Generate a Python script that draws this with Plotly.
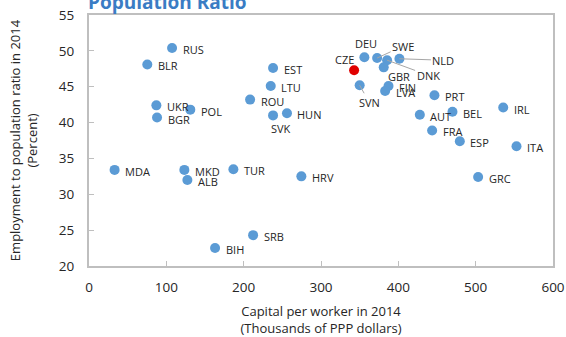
import plotly.graph_objects as go

# Country codes, capital per worker (thousands of PPP dollars, 2014)
# and employment-to-population ratio (percent, 2014)
countries = ["RUS", "BLR", "UKR", "BGR", "POL", "MDA", "MKD", "ALB", "TUR", "BIH",
             "SRB", "HRV", "ROU", "EST", "LTU", "SVK", "HUN", "DEU", "SWE", "DNK",
             "GBR", "NLD", "CZE", "SVN", "FIN", "LVA", "PRT", "AUT", "BEL", "IRL",
             "FRA", "ESP", "ITA", "GRC"]
capital = [107.4, 75.4, 87.1, 88.0, 131.0, 33.1, 123.3, 127.2, 186.7, 163.0,
           212.2, 274.6, 208.3, 238.0, 235.0, 238.0, 256.0, 356.1, 372.6, 385.5,
           381.1, 401.4, 342.8, 350.0, 387.3, 382.9, 446.7, 427.8, 470.0, 535.6,
           443.7, 479.5, 552.8, 503.2]
employment = [50.4, 48.1, 42.4, 40.7, 41.8, 33.4, 33.4, 32.0, 33.5, 22.5,
              24.3, 32.5, 43.2, 47.6, 45.1, 41.0, 41.3, 49.1, 49.0, 48.7,
              47.7, 48.9, 47.3, 45.2, 45.1, 44.4, 43.8, 41.1, 41.5, 42.1,
              38.9, 37.4, 36.7, 32.4]
highlight = "CZE"

x_ticks = [0, 100, 200, 300, 400, 500, 600]
y_ticks = [20, 25, 30, 35, 40, 45, 50, 55]

BLUE = "#5B9BD5"
RED = "#E00000"
TEXT = "#262626"
FRAME = "#BFBFBF"
FONT = "Open Sans"
LABEL_SIZE = 11

colors = [RED if c == highlight else BLUE for c in countries]

fig = go.Figure()
fig.add_trace(go.Scatter(
    x=capital, y=employment, mode="markers",
    marker=dict(size=10, color=colors, line=dict(width=0)),
    hoverinfo="text", text=countries, showlegend=False,
))

# label placement: default is to the right of the marker;
# entries here give (anchor, dx, dy) in pixels, dy positive = downward
special = {
    "SVK": ("center", 8, 13.5),
    "DEU": ("center", 2, -13.5),
    "CZE": ("right", 1.5, -10.5),
    "GBR": ("center", 15.5, 9.5),
}
# labels joined to their marker with a thin leader line: (dx, dy) of label centre
leaders = {
    "SWE": (26, -12),
    "NLD": (44, 1.5),
    "DNK": (41, 15),
    "SVN": (9.5, 17),
}

for c, xv, yv in zip(countries, capital, employment):
    font = dict(family=FONT, size=LABEL_SIZE, color=TEXT)
    if c in leaders:
        ax, ay = leaders[c]
        fig.add_annotation(
            x=xv, y=yv, xref="x", yref="y", text=c, showarrow=True,
            ax=ax, ay=ay, arrowhead=0, arrowwidth=1, arrowcolor="#A6A6A6",
            standoff=0, startstandoff=0, font=font,
        )
    elif c in special:
        anchor, dx, dy = special[c]
        fig.add_annotation(
            x=xv, y=yv, xref="x", yref="y", text=c, showarrow=False,
            xanchor=anchor, yanchor="middle", xshift=dx, yshift=-dy, font=font,
        )
    else:
        fig.add_annotation(
            x=xv, y=yv, xref="x", yref="y", text=c, showarrow=False,
            xanchor="left", yanchor="middle", xshift=8.5, yshift=-1.5, font=font,
        )

# chart heading (second line of a two-line title; the top line sits above the page)
fig.add_annotation(
    x=0, y=1.0, xref="paper", yref="paper", xanchor="left", yanchor="middle",
    xshift=-3, yshift=13.5, text="<b>Population Ratio</b>", showarrow=False,
    font=dict(family=FONT, size=19, color="#3A7CC4"),
)

axis_common = dict(
    showgrid=False, zeroline=False, showline=True, mirror=True, automargin=False,
    linecolor=FRAME, linewidth=2, ticks="inside", ticklen=5,
    tickwidth=1, tickcolor=FRAME,
    tickfont=dict(family=FONT, size=13.5, color=TEXT),
)

fig.update_layout(
    width=566, height=337,
    margin=dict(l=89, r=13, t=15, b=71),
    paper_bgcolor="white", plot_bgcolor="white",
    font=dict(family=FONT, color=TEXT),
    xaxis=dict(
        range=[0, 600], tickvals=x_ticks, ticklabelstandoff=8,
        title=dict(text="Capital per worker in 2014<br>(Thousands of PPP dollars)",
                   font=dict(family=FONT, size=13, color=TEXT), standoff=12),
        **axis_common,
    ),
    yaxis=dict(
        range=[20, 55], tickvals=y_ticks, ticklabelstandoff=10,
        title=dict(text="Employment to population ratio in 2014<br>(Percent)",
                   font=dict(family=FONT, size=13, color=TEXT), standoff=18),
        **axis_common,
    ),
)

fig.write_html("out.html")
